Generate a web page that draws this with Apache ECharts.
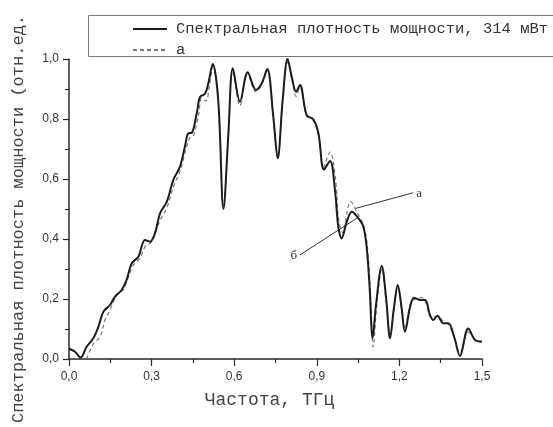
<!DOCTYPE html>
<html>
<head>
<meta charset="utf-8">
<title>Спектральная плотность мощности</title>
<script src="https://cdn.jsdelivr.net/npm/echarts@6/dist/echarts.min.js"></script>
<style>
  html, body { margin: 0; padding: 0; background: #fff; }
  #main { width: 553px; height: 427px; }
</style>
</head>
<body>
<div id="main"></div>
<script>
// данные
var seriesNames = ['Спектральная плотность мощности, 314 мВт', 'а'];

// сплошная кривая (б)
var solidFreq = [0, 0.022, 0.042, 0.064, 0.088, 0.107, 0.125, 0.149, 0.167, 0.191, 0.209, 0.228, 0.252, 0.276, 0.294,
  0.312, 0.331, 0.355, 0.379, 0.403, 0.421, 0.433, 0.446, 0.464, 0.476, 0.494, 0.506, 0.522, 0.542, 0.561, 0.579,
  0.595, 0.621, 0.649, 0.679, 0.70, 0.72, 0.742, 0.758, 0.776, 0.794, 0.809, 0.825, 0.839, 0.863, 0.887, 0.906,
  0.926, 0.948, 0.966, 0.978, 0.99, 1.009, 1.027, 1.051, 1.069, 1.081, 1.091, 1.103, 1.115, 1.136, 1.152, 1.166,
  1.18, 1.194, 1.208, 1.22, 1.239, 1.253, 1.275, 1.293, 1.311, 1.323, 1.338, 1.36, 1.378, 1.40, 1.42, 1.45, 1.475, 1.5];
var solidPower = [0.034, 0.024, 0.005, 0.041, 0.069, 0.108, 0.158, 0.18, 0.208, 0.23, 0.263, 0.319, 0.341, 0.397, 0.391,
  0.419, 0.486, 0.524, 0.597, 0.641, 0.708, 0.752, 0.754, 0.819, 0.874, 0.884, 0.919, 0.983, 0.863, 0.50, 0.752,
  0.969, 0.858, 0.956, 0.897, 0.919, 0.967, 0.808, 0.669, 0.863, 1.0, 0.941, 0.891, 0.913, 0.813, 0.799, 0.752,
  0.632, 0.66, 0.563, 0.441, 0.402, 0.458, 0.491, 0.469, 0.441, 0.374, 0.252, 0.069, 0.18, 0.31, 0.2, 0.069,
  0.17, 0.247, 0.17, 0.091, 0.174, 0.204, 0.197, 0.197, 0.147, 0.13, 0.144, 0.119, 0.119, 0.07, 0.01, 0.102, 0.063, 0.058];

// штриховая кривая (а)
var dashFreq = [0.064, 0.088, 0.113, 0.131, 0.149, 0.173, 0.197, 0.216, 0.234, 0.258, 0.276, 0.3, 0.331, 0.355, 0.379,
  0.403, 0.425, 0.44, 0.452, 0.47, 0.482, 0.497, 0.51, 0.522, 0.542, 0.561, 0.579, 0.595, 0.621, 0.649, 0.679,
  0.70, 0.72, 0.742, 0.758, 0.776, 0.794, 0.809, 0.825, 0.839, 0.863, 0.887, 0.906, 0.924, 0.948, 0.968, 0.98,
  0.995, 1.012, 1.022, 1.045, 1.072, 1.085, 1.095, 1.105, 1.117, 1.136, 1.152, 1.166, 1.18, 1.194, 1.208, 1.22,
  1.24, 1.258, 1.28, 1.295, 1.315, 1.338, 1.36, 1.378, 1.40, 1.42, 1.45, 1.475, 1.5];
var dashPower = [0.0, 0.05, 0.074, 0.13, 0.163, 0.213, 0.23, 0.274, 0.313, 0.336, 0.374, 0.391, 0.463, 0.502, 0.574,
  0.625, 0.70, 0.74, 0.745, 0.81, 0.87, 0.86, 0.91, 0.975, 0.86, 0.51, 0.75, 0.96, 0.845, 0.95, 0.89,
  0.915, 0.962, 0.80, 0.672, 0.86, 0.99, 0.935, 0.875, 0.905, 0.81, 0.795, 0.745, 0.64, 0.69, 0.60, 0.46,
  0.42, 0.50, 0.525, 0.49, 0.44, 0.36, 0.22, 0.04, 0.17, 0.30, 0.19, 0.075, 0.16, 0.24, 0.17, 0.10,
  0.185, 0.20, 0.205, 0.19, 0.14, 0.142, 0.125, 0.115, 0.07, 0.02, 0.09, 0.065, 0.055];

// оси
var xMin = 0, xMax = 1.5, xStep = 0.3;
var yMin = 0, yMax = 1.0, yStep = 0.2;

// подписи-выноски: [текст, конец линии (x, y), точка на кривой (x, y)]
var calloutText = ['а', 'б'];
var calloutFrom = [[1.25, 0.554], [0.839, 0.347]];
var calloutTo = [[1.041, 0.502], [1.05, 0.472]];

function pairs(xs, ys) {
  var out = [];
  for (var i = 0; i < xs.length; i++) out.push([xs[i], ys[i]]);
  return out;
}
function commaFmt(v) {
  return v.toFixed(1).replace('.', ',');
}

var chartDom = document.getElementById('main');
var myChart = echarts.init(chartDom);

var axisColor = '#2a2a2a';
var option = {
  backgroundColor: '#fff',
  animation: false,
  grid: { left: 69, right: 71, top: 59, bottom: 68 },
  legend: {
    orient: 'vertical',
    left: 88,
    top: 15,
    padding: [6, 20, 0, 44],
    itemWidth: 34,
    itemHeight: 14,
    itemGap: 5,
    borderWidth: 0,
    itemStyle: { opacity: 0 },
    textStyle: { fontFamily: 'Liberation Mono', fontSize: 15.5, color: '#333', lineHeight: 14, padding: [0, 0, 0, 4] },
    data: seriesNames
  },
  xAxis: {
    type: 'value',
    min: xMin,
    max: xMax,
    interval: xStep,
    name: 'Частота, ТГц',
    nameLocation: 'middle',
    nameGap: 32,
    nameTextStyle: { fontFamily: 'Liberation Mono', fontSize: 18, color: '#444', padding: [0, 12, 0, 0] },
    axisLine: { lineStyle: { color: axisColor, width: 1.5 } },
    axisTick: { inside: false, length: 7, lineStyle: { color: axisColor, width: 1.2 } },
    minorTick: { show: true, splitNumber: 2, length: 4, lineStyle: { color: axisColor, width: 1.2 } },
    axisLabel: { formatter: commaFmt, margin: 12, fontFamily: 'Liberation Sans', fontSize: 12, color: '#333' },
    splitLine: { show: false }
  },
  yAxis: {
    type: 'value',
    min: yMin,
    max: yMax,
    interval: yStep,
    axisLine: { show: true, lineStyle: { color: axisColor, width: 1.5 } },
    axisTick: { show: true, inside: false, length: 6, lineStyle: { color: axisColor, width: 1.2 } },
    minorTick: { show: true, splitNumber: 2, length: 4, lineStyle: { color: axisColor, width: 1.2 } },
    axisLabel: { formatter: commaFmt, margin: 10, fontFamily: 'Liberation Sans', fontSize: 12, color: '#333' },
    splitLine: { show: false }
  },
  series: [
    {
      name: seriesNames[0],
      type: 'line',
      smooth: 0.35,
      symbol: 'none',
      z: 3,
      lineStyle: { color: '#1c1c1c', width: 2 },
      itemStyle: { color: '#1c1c1c' },
      data: pairs(solidFreq, solidPower)
    },
    {
      name: seriesNames[1],
      type: 'line',
      smooth: 0.35,
      symbol: 'none',
      z: 2,
      lineStyle: { color: '#777', width: 1.2, type: [4, 3] },
      itemStyle: { color: '#777' },
      data: pairs(dashFreq, dashPower)
    }
  ]
};
myChart.setOption(option);

// рамка легенды, подпись оси Y и выноски
var graphics = [{
  type: 'rect',
  shape: { x: 88.5, y: 15.5, width: 480, height: 41 },
  style: { fill: 'none', stroke: '#777', lineWidth: 1 }
}, {
  type: 'text',
  x: 18,
  y: 219,
  rotation: Math.PI / 2,
  style: {
    text: 'Спектральная плотность мощности (отн.ед.',
    fontFamily: 'Liberation Mono',
    fontSize: 17,
    fill: '#444',
    align: 'center',
    verticalAlign: 'middle'
  }
}];
for (var i = 0; i < calloutText.length; i++) {
  var a = myChart.convertToPixel({ gridIndex: 0 }, calloutFrom[i]);
  var b = myChart.convertToPixel({ gridIndex: 0 }, calloutTo[i]);
  graphics.push({
    type: 'line',
    shape: { x1: a[0], y1: a[1], x2: b[0], y2: b[1] },
    style: { stroke: '#333', lineWidth: 1 }
  });
  graphics.push({
    type: 'text',
    x: i === 0 ? a[0] + 3 : a[0] - 3,
    y: a[1] + 1,
    style: {
      text: calloutText[i],
      fontFamily: 'Liberation Serif',
      fontSize: 13,
      fill: '#333',
      align: i === 0 ? 'left' : 'right',
      verticalAlign: 'middle'
    }
  });
}
myChart.setOption({ graphic: graphics });
</script>
</body>
</html>
